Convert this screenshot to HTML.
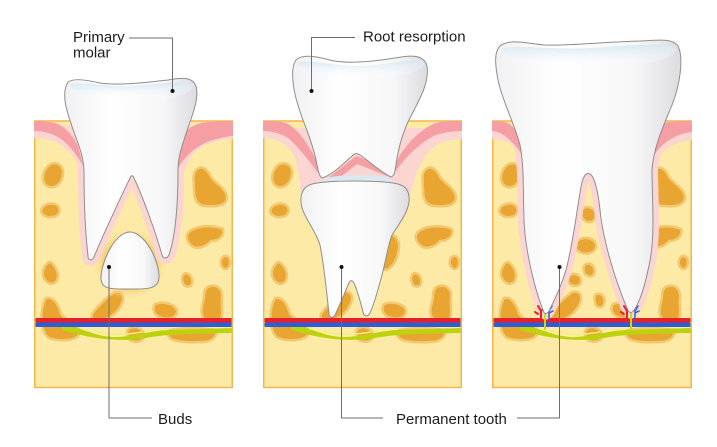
<!DOCTYPE html>
<html><head><meta charset="utf-8"><style>
html,body{margin:0;padding:0;background:#fff;}
svg{display:block;}
text{font-family:"Liberation Sans",sans-serif;font-size:15px;fill:#1c1c1c;}
</style></head><body>
<svg width="717" height="447" viewBox="0 0 717 447" xmlns="http://www.w3.org/2000/svg">
<defs>
  <linearGradient id="tg" x1="0" y1="0" x2="1" y2="0">
    <stop offset="0" stop-color="#f1f1f3"/><stop offset="0.35" stop-color="#ffffff"/><stop offset="0.75" stop-color="#f7f7f8"/><stop offset="1" stop-color="#dcdcdf"/>
  </linearGradient>
  <linearGradient id="cap" x1="0" y1="0" x2="0" y2="1">
    <stop offset="0" stop-color="#d6e8f2"/><stop offset="1" stop-color="#ffffff" stop-opacity="0"/>
  </linearGradient>
  <radialGradient id="halo" cx="0.5" cy="0.5" r="0.5">
    <stop offset="0.6" stop-color="#f0b848" stop-opacity="0.9"/><stop offset="1" stop-color="#fdeaa6" stop-opacity="0"/>
  </radialGradient>
  <clipPath id="c1"><rect x="34" y="118" width="199" height="270"/></clipPath>
  <clipPath id="c2"><rect x="263" y="118" width="199" height="270"/></clipPath>
  <clipPath id="c3"><rect x="492" y="118" width="200" height="270"/></clipPath>
  <clipPath id="c1b"><rect x="34" y="128" width="199" height="260"/></clipPath>
  <clipPath id="c3b"><rect x="492" y="128" width="200" height="260"/></clipPath>
  <g id="bone" fill="#e8a532" stroke="#f3c870" stroke-width="2.5">
    <path d="M14,166 C20,160 30,164 29,174 C28,184 20,190 13,186 C7,182 8,172 14,166 Z"/>
    <path d="M8,208 C12,203 20,202 24,206 C28,211 24,217 18,217 C12,218 5,214 8,208 Z"/>
    <path d="M162,170 C168,164 174,170 177,177 C182,184 192,188 193,197 C193,206 182,207 172,206 C163,206 160,199 160,190 C160,181 158,174 162,170 Z"/>
    <path d="M156,231 C164,225 180,225 189,229 C191,236 185,241 177,241 C172,247 163,250 158,246 C152,241 151,235 156,231 Z"/>
    <path d="M188,258 C191,254 196,256 196,262 C196,268 192,271 189,268 C186,265 186,261 188,258 Z"/>
    <path d="M16,262 C20,264 24,270 24,276 C24,283 18,286 13,282 C8,278 8,272 10,268 C12,264 14,262 16,262 Z"/>
    <path d="M152,273 C157,274 159,279 158,284 C156,288 150,287 149,283 C147,279 148,274 152,273 Z"/>
    <path d="M12,298 C20,296 25,306 27,314 C33,321 45,324 46,332 C45,341 26,342 15,338 C6,333 5,310 12,298 Z"/>
    <path d="M80,292 C88,290 91,296 88,303 C85,311 78,317 70,320 C62,322 56,320 58,314 C62,308 72,298 80,292 Z"/>
    <path d="M96,328 C103,325 111,330 110,337 C108,343 98,343 95,339 C92,335 92,330 96,328 Z"/>
    <path d="M121,304 C128,301 140,303 143,310 C144,317 136,320 128,318 C121,316 117,310 121,304 Z"/>
    <path d="M176,286 C184,284 189,290 188,298 C187,306 190,315 186,321 C180,325 170,322 168,315 C166,308 170,302 170,296 C170,290 172,287 176,286 Z"/>
    <path d="M136,330 C150,327 170,328 182,330 C184,336 178,342 168,342 C155,343 140,342 136,338 C133,335 133,332 136,330 Z"/>
  </g>
  <g id="vess">
    <path d="M28,326 C50,327 62,338 84,337 C104,336 114,331 134,330 L199,328 L199,333 C150,334 134,334 112,338 C90,342 60,340 28,330 Z" fill="#bcd20c"/>
    <path d="M60,331 C75,335 92,335 108,332" stroke="#eef27a" stroke-width="1.5" fill="none"/>
    <rect x="1" y="318" width="198" height="4.5" rx="2" fill="#e5202a"/>
    <rect x="1" y="322.5" width="198" height="4.5" rx="2" fill="#2a5fd6"/>
  </g>
</defs>

<!-- PANEL 1 -->
<g clip-path="url(#c1)">
  <rect x="34" y="121" width="199" height="267" fill="#fdeaa6"/>
  <use href="#bone" x="34"/>
  <use href="#vess" x="34"/>
</g>
<rect x="34.75" y="121" width="197.5" height="266.5" fill="none" stroke="#f6b54c" stroke-width="1.5"/>
<ellipse cx="130" cy="264" rx="38" ry="36" fill="url(#halo)"/>
<g clip-path="url(#c1b)">
<path d="M68,82 C74,78 88,80 100,83 C120,86 150,82 168,80 C180,78 192,76 196,86 C200,100 190,120 184,140 C180,152 178,160 178,172 C178,200 176,235 169,255 C167,259 163,259 162,255 C155,230 142,195 134,178 C133,175 131,175 130,178 C122,195 105,230 94,257 C92,261 88,261 88,256 C85,230 84,200 84,172 C84,160 80,148 75,135 C68,115 60,95 68,82 Z" fill="none" stroke="#fbd5d2" stroke-width="12" stroke-linejoin="round"/>
</g>
<path d="M34,126 L34,138 C48,138 62,142 72,155 C78,164 82,172 84,178 L92,178 L92,126 Z" fill="#fbd5d2"/>
<path d="M34,124 Q34,121 37,121 L50,122 C62,123 72,134 78,146 L84,168 C78,156 68,142 56,136 C48,132 40,131 34,131 Z" fill="#f59ea3"/>
<path d="M233,126 L233,139 C220,139 205,143 195,152 C188,160 184,170 182,178 L174,178 L174,126 Z" fill="#fbd5d2"/>
<path d="M233,124 Q233,121 230,121 L208,122 C196,123 188,128 184,134 L178,168 C186,155 196,146 210,141 C220,138 228,136 233,136 Z" fill="#f59ea3"/>
<path d="M68,82 C74,78 88,80 100,83 C120,86 150,82 168,80 C180,78 192,76 196,86 C200,100 190,120 184,140 C180,152 178,160 178,172 C178,200 176,235 169,255 C167,259 163,259 162,255 C155,230 142,195 134,178 C133,175 131,175 130,178 C122,195 105,230 94,257 C92,261 88,261 88,256 C85,230 84,200 84,172 C84,160 80,148 75,135 C68,115 60,95 68,82 Z" fill="url(#tg)" stroke="#8e8e8e" stroke-width="1"/>
<path d="M70,84 C90,82 110,87 130,86 C150,85 175,80 194,84 C194,92 180,100 130,100 C90,100 72,95 70,84 Z" fill="url(#cap)"/>
<path d="M130,232 C145,232 160,262 159,278 C158,290 145,289 130,289 C112,289 101,290 101,278 C101,262 115,232 130,232 Z" fill="url(#tg)" stroke="#8e8e8e" stroke-width="1"/>

<!-- PANEL 2 -->
<g clip-path="url(#c2)">
  <rect x="263" y="121" width="199" height="267" fill="#fdeaa6"/>
  <use href="#bone" x="263"/>
  <path d="M383,234 C391,230 400,238 399,248 C398,258 393,268 386,270 C380,270 379,260 380,250 C380,242 379,236 383,234 Z" fill="#e8a532" stroke="#f3c870" stroke-width="2.5"/>
  <use href="#vess" x="263"/>
</g>
<rect x="263.75" y="121" width="197.5" height="266.5" fill="none" stroke="#f6b54c" stroke-width="1.5"/>
<path d="M263,128 L263,138 C278,138 290,145 296,160 C300,175 300,190 302,202 L408,202 C412,185 418,165 428,152 C438,142 450,139 462,139 L462,128 Z" fill="#fbd5d2"/>
<path d="M263,124 Q263,121 267,121 L282,122 C294,124 305,140 312,152 L322,170 L322,178 C312,165 300,148 288,138 C280,133 270,131 263,131 Z" fill="#f59ea3"/>
<path d="M462,124 Q462,121 458,121 L440,122 C425,125 410,140 400,155 L395,165 L395,172 C405,158 420,142 436,135 C446,132 455,131 462,131 Z" fill="#f59ea3"/>
<path d="M328,178 L356,156 L394,170 L390,177 L357,164 L338,179 Z" fill="#f59ea3"/>
<path d="M296,60 C302,54 315,56 330,60 C345,64 370,62 395,58 C410,55 424,54 427,66 C430,85 416,105 408,122 C402,135 398,150 396,165 C395,172 394,176 391,177 C380,172 368,160 360,155 C357,153 355,153 352,156 C342,165 332,175 322,178 C319,176 318,170 316,160 C312,140 302,120 298,105 C293,90 290,68 296,60 Z" fill="url(#tg)" stroke="#8e8e8e" stroke-width="1"/>
<path d="M298,62 C315,60 335,66 360,66 C385,66 405,58 424,62 C424,70 410,78 360,78 C320,78 300,72 298,62 Z" fill="url(#cap)"/>
<ellipse cx="358" cy="180" rx="34" ry="5" fill="#dbe8ef"/>
<path d="M312,184 C330,180 380,180 398,184 C406,186 410,192 409,202 C407,215 398,225 392,235 C388,245 386,260 382,275 C378,290 374,305 370,313 C368,317 364,317 363,312 C360,300 357,290 354,283 C352,280 350,280 349,283 C345,292 340,305 335,315 C333,318 329,318 329,314 C327,295 324,265 320,245 C316,232 306,220 302,208 C299,196 302,187 312,184 Z" fill="url(#tg)" stroke="#8e8e8e" stroke-width="1"/>

<!-- PANEL 3 -->
<g clip-path="url(#c3)">
  <rect x="492" y="121" width="200" height="267" fill="#fdeaa6"/>
  <use href="#bone" x="492"/>
  <g fill="#e8a532" stroke="#f3c870" stroke-width="2.5">
    <path d="M583,208 C590,205 597,210 596,216 C595,222 588,224 584,220 C580,216 580,211 583,208 Z"/>
    <path d="M578,240 C585,236 595,238 596,245 C597,252 588,255 582,253 C575,251 573,244 578,240 Z"/>
    <path d="M570,275 C576,272 582,276 581,282 C580,287 572,287 569,283 C567,280 567,277 570,275 Z"/>
    <path d="M586,264 C592,262 596,268 594,274 C592,278 586,277 584,272 C583,268 583,266 586,264 Z"/>
    <path d="M596,294 C602,292 606,298 604,304 C602,309 596,308 595,303 C594,299 594,296 596,294 Z"/>
  </g>
  <use href="#vess" x="492"/>
</g>
<rect x="492.75" y="121" width="198.5" height="266.5" fill="none" stroke="#f6b54c" stroke-width="1.5"/>
<g clip-path="url(#c3b)">
<path d="M500,46 C510,38 530,44 545,45 C570,46 600,42 640,41 C660,40 672,38 678,46 C684,58 680,85 672,105 C664,125 654,145 652,170 C652,200 656,240 648,270 C644,290 638,305 634,310 C631,314 629,313 627,308 C615,280 603,240 600,210 C598,190 594,176 590,174 C586,172 584,176 582,182 C578,200 574,240 566,270 C560,290 552,305 549,311 C546,315 544,314 543,310 C535,290 525,250 524,220 C523,190 524,165 520,145 C515,125 502,100 498,80 C495,64 494,52 500,46 Z" fill="none" stroke="#fbd5d2" stroke-width="12" stroke-linejoin="round"/>
</g>
<path d="M492,126 L492,139 C505,139 515,145 520,155 L524,172 L532,172 L532,126 Z" fill="#fbd5d2"/>
<path d="M492,124 Q492,121 495,121 L505,122 C512,124 518,132 521,140 L524,158 C518,148 510,138 500,133 C497,132 494,131 492,131 Z" fill="#f59ea3"/>
<path d="M692,126 L692,140 C675,141 662,150 655,162 L652,172 L644,172 L644,126 Z" fill="#fbd5d2"/>
<path d="M692,124 Q692,121 689,121 L668,122 C660,124 655,134 653,143 L652,158 C660,145 672,136 686,133 L692,132 Z" fill="#f59ea3"/>
<g fill="none" stroke-linecap="round">
  <path d="M545,312 L545,329" stroke="#c8dc10" stroke-width="2"/>
  <path d="M541,319 L541,311 L538,306 M541,311 L545,307 M538,314 L535,312" stroke="#e5202a" stroke-width="2"/>
  <path d="M549,320 L549,311 L552,306 M549,313 L553,311" stroke="#2a5fd6" stroke-width="1.5"/>
  <path d="M631,310 L631,329" stroke="#c8dc10" stroke-width="2"/>
  <path d="M627,319 L627,311 L624,306 M627,311 L631,307 M624,314 L621,312" stroke="#e5202a" stroke-width="2"/>
  <path d="M635,320 L635,311 L638,306 M635,313 L639,311" stroke="#2a5fd6" stroke-width="1.5"/>
</g>
<path d="M500,46 C510,38 530,44 545,45 C570,46 600,42 640,41 C660,40 672,38 678,46 C684,58 680,85 672,105 C664,125 654,145 652,170 C652,200 656,240 648,270 C644,290 638,305 634,310 C631,314 629,313 627,308 C615,280 603,240 600,210 C598,190 594,176 590,174 C586,172 584,176 582,182 C578,200 574,240 566,270 C560,290 552,305 549,311 C546,315 544,314 543,310 C535,290 525,250 524,220 C523,190 524,165 520,145 C515,125 502,100 498,80 C495,64 494,52 500,46 Z" fill="url(#tg)" stroke="#8e8e8e" stroke-width="1"/>
<path d="M503,48 C525,45 550,50 590,48 C630,46 655,42 676,48 C676,58 650,68 590,68 C530,68 505,60 503,48 Z" fill="url(#cap)"/>

<g fill="none" stroke="#6e6e6e" stroke-width="1">
  <path d="M129,38 L172.5,38 L172.5,91"/>
  <path d="M355,37.5 L311.5,37.5 L311.5,91"/>
  <path d="M109,267 L109,418 L152,418"/>
  <path d="M341.5,267 L341.5,418 L383,418"/>
  <path d="M517,418 L559.5,418 L559.5,267"/>
</g>
<g fill="#111">
  <circle cx="172.5" cy="91" r="2"/>
  <circle cx="311.5" cy="91" r="2"/>
  <circle cx="109" cy="267" r="2"/>
  <circle cx="341.5" cy="267" r="2"/>
  <circle cx="559.5" cy="267" r="2"/>
</g>
<text x="73" y="42">Primary</text>
<text x="73" y="57.5">molar</text>
<text x="363" y="41.5">Root resorption</text>
<text x="158" y="424">Buds</text>
<text x="396" y="424">Permanent tooth</text>
</svg>
</body></html>
